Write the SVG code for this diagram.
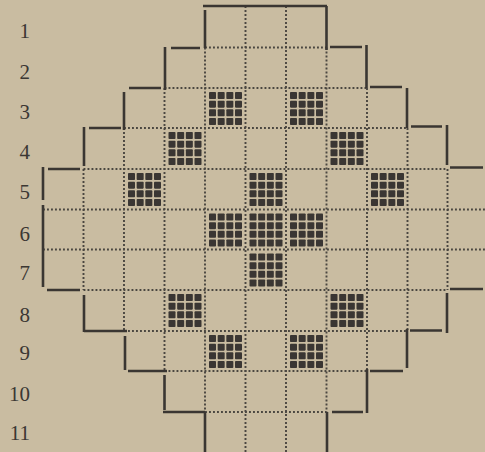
<svg xmlns="http://www.w3.org/2000/svg" width="485" height="452" viewBox="0 0 485 452">
<style>
.bg{fill:#c9bca1}
.solid{fill:none;stroke:#3a3632;stroke-width:2.6;stroke-linecap:butt}
.dot{fill:none;stroke:#4a4640;stroke-width:1.9;stroke-dasharray:1.9 2.1}
.lbl{font-family:"Liberation Serif","Times New Roman",serif;font-size:21px;fill:#3b3733;text-anchor:end}
.sq{fill:#3a3633}
</style>
<defs>
<g id="blk">
<rect class="sq" x="0" y="0" width="7" height="7" rx="0.8"/><rect class="sq" x="8.67" y="0" width="7" height="7" rx="0.8"/><rect class="sq" x="17.33" y="0" width="7" height="7" rx="0.8"/><rect class="sq" x="26" y="0" width="7" height="7" rx="0.8"/>
<rect class="sq" x="0" y="8.67" width="7" height="7" rx="0.8"/><rect class="sq" x="8.67" y="8.67" width="7" height="7" rx="0.8"/><rect class="sq" x="17.33" y="8.67" width="7" height="7" rx="0.8"/><rect class="sq" x="26" y="8.67" width="7" height="7" rx="0.8"/>
<rect class="sq" x="0" y="17.33" width="7" height="7" rx="0.8"/><rect class="sq" x="8.67" y="17.33" width="7" height="7" rx="0.8"/><rect class="sq" x="17.33" y="17.33" width="7" height="7" rx="0.8"/><rect class="sq" x="26" y="17.33" width="7" height="7" rx="0.8"/>
<rect class="sq" x="0" y="26" width="7" height="7" rx="0.8"/><rect class="sq" x="8.67" y="26" width="7" height="7" rx="0.8"/><rect class="sq" x="17.33" y="26" width="7" height="7" rx="0.8"/><rect class="sq" x="26" y="26" width="7" height="7" rx="0.8"/>
</g>
</defs>
<rect class="bg" x="0" y="0" width="485" height="452"/>
<g id="labels">
<text class="lbl" x="30" y="38">1</text>
<text class="lbl" x="30" y="79">2</text>
<text class="lbl" x="30" y="119">3</text>
<text class="lbl" x="30" y="159">4</text>
<text class="lbl" x="30" y="199">5</text>
<text class="lbl" x="30" y="241">6</text>
<text class="lbl" x="30" y="280">7</text>
<text class="lbl" x="30" y="322">8</text>
<text class="lbl" x="30" y="360">9</text>
<text class="lbl" x="30" y="401">10</text>
<text class="lbl" x="30" y="440">11</text>
</g>
<g id="grid">
<path class="dot" d="M205 47.5H326.5 M164.5 88H367 M124 128H407.5 M83.5 169H447.5 M43 209.5H485 M43 249.5H485 M83.5 290H447.5 M124 331H407.5 M164.5 371H367 M205 412H326.5"/>
<path class="dot" d="M83.5 169V290 M447.5 169V290 M124 128V331 M407.5 128V331 M164.5 88V371 M367 88V371 M205 47.5V412 M326.5 47.5V412 M245.5 6V452 M286 6V452"/>
</g>
<g id="border">
<path class="solid" d="M203 6H327 M205 10V48 M326.5 6V50 M171 48H200 M165 47V90 M129 88H161 M124 92V130 M89 128H121 M84 127V166 M48 169H80 M43 167V200 M43 205V287 M47 290H80 M84 295V332 M84 331H127 M125 336V370 M128 371H167 M164.5 375V410 M163 412H205 M205 412V452"/>
<path class="solid" d="M330 47H362 M366.5 45V88 M370 87H402 M407 88V128 M411 126.5H442 M447 125V165 M450 167.5H483 M450 289H483 M447 293V333 M410 330.5H442 M407 329V368 M370 371H403 M367 369V413 M332 412H363 M327 412V452"/>
</g>
<g id="blocks">
<use href="#blk" x="209" y="92"/>
<use href="#blk" x="290" y="92"/>
<use href="#blk" x="168.5" y="132"/>
<use href="#blk" x="330.5" y="132"/>
<use href="#blk" x="128" y="173"/>
<use href="#blk" x="249.5" y="173"/>
<use href="#blk" x="371" y="173"/>
<use href="#blk" x="209" y="213.5"/>
<use href="#blk" x="249.5" y="213.5"/>
<use href="#blk" x="290" y="213.5"/>
<use href="#blk" x="249.5" y="253.5"/>
<use href="#blk" x="168.5" y="294"/>
<use href="#blk" x="330.5" y="294"/>
<use href="#blk" x="209" y="335"/>
<use href="#blk" x="290" y="335"/>
</g>
</svg>
